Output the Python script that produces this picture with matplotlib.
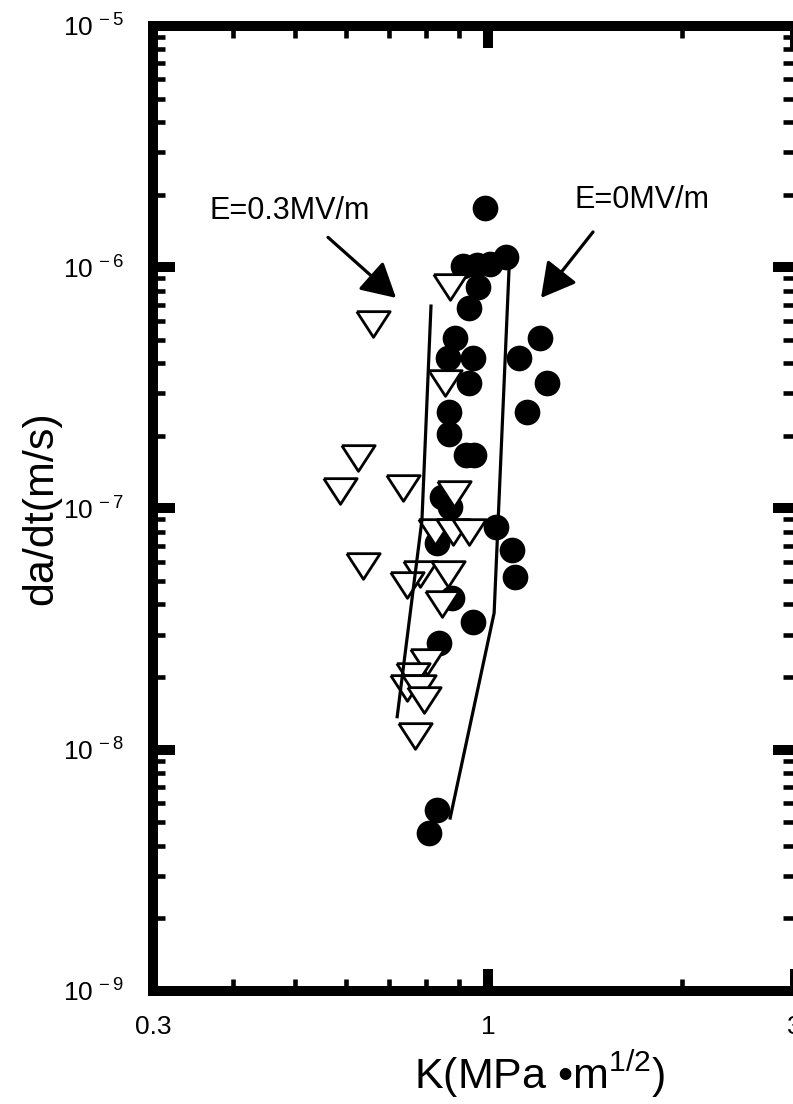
import matplotlib
matplotlib.use('Agg')
import matplotlib.pyplot as plt
from matplotlib import font_manager
from matplotlib.ticker import FixedLocator, FixedFormatter, NullFormatter

names = {f.name for f in font_manager.fontManager.ttflist}
FONT = 'Liberation Sans Narrow' if 'Liberation Sans Narrow' in names else 'Liberation Sans'
plt.rcParams['font.family'] = [FONT, 'DejaVu Sans']
plt.rcParams['mathtext.fontset'] = 'custom'
plt.rcParams['mathtext.rm'] = FONT
plt.rcParams['mathtext.it'] = FONT
plt.rcParams['mathtext.bf'] = FONT

# E = 0 MV/m (filled circles)
k_e0 = [0.988, 0.913, 0.960, 1.006, 1.065, 0.964, 0.933, 0.887, 0.865, 0.946,
        1.204, 1.117, 1.234, 0.933, 1.149, 0.869, 0.869, 0.923, 0.950, 0.847,
        0.872, 1.028, 1.088, 1.100, 0.832, 0.878, 0.946, 0.838, 0.832, 0.808]
v_e0 = [1.76e-6, 1.01e-6, 1.02e-6, 1.03e-6, 1.10e-6, 8.28e-7, 6.77e-7, 5.09e-7, 4.21e-7, 4.21e-7,
        5.09e-7, 4.21e-7, 3.31e-7, 3.31e-7, 2.51e-7, 2.51e-7, 2.04e-7, 1.67e-7, 1.67e-7, 1.12e-7,
        1.01e-7, 8.38e-8, 6.73e-8, 5.20e-8, 7.19e-8, 4.26e-8, 3.39e-8, 2.77e-8, 5.62e-9, 4.52e-9]

# E = 0.3 MV/m (open triangles)
k_e03 = [0.661, 0.626, 0.587, 0.736, 0.872, 0.856, 0.884, 0.826, 0.881, 0.933,
         0.638, 0.783, 0.865, 0.747, 0.847, 0.803, 0.763, 0.747, 0.780, 0.794, 0.769]
v_e03 = [5.82e-7, 1.62e-7, 1.18e-7, 1.22e-7, 8.28e-7, 3.31e-7, 1.15e-7, 8.0e-8, 8.0e-8, 8.0e-8,
         5.78e-8, 5.35e-8, 5.35e-8, 4.82e-8, 4.02e-8, 2.31e-8, 2.02e-8, 1.80e-8, 1.80e-8, 1.61e-8, 1.14e-8]

# trend lines
line_e03_k = [0.721, 0.788, 0.814]
line_e03_v = [1.37e-8, 8.95e-8, 6.90e-7]
line_e0_k = [0.872, 1.021, 1.077]
line_e0_v = [5.21e-9, 3.69e-8, 9.75e-7]

x_major = [0.3, 1, 3]
x_major_labels = ['0.3', '1', '3']
x_minor = [0.4, 0.5, 0.6, 0.7, 0.8, 0.9, 2]
y_exps = [-9, -8, -7, -6, -5]
y_minor = [m * 10.0 ** e for e in y_exps[:-1] for m in range(2, 10)]

fig = plt.figure(figsize=(7.93, 11.04), dpi=100)
ax = fig.add_axes([0.1927, 0.1024, 0.8092, 0.8741])
ax.set_xscale('log')
ax.set_yscale('log')
ax.set_xlim(0.3, 3)
ax.set_ylim(1e-9, 1e-5)

ax.plot(k_e0, v_e0, linestyle='none', marker='o', ms=18.5, mfc='k', mec='k', mew=0, zorder=3)
tri = [(-1, 0.77), (1, 0.77), (0, -0.77), (-1, 0.77)]
ax.plot(k_e03, v_e03, linestyle='none', marker=tri, ms=24, mfc='white', mec='k', mew=2.0, zorder=4)
ax.plot(line_e03_k, line_e03_v, color='k', lw=2.3, zorder=5)
ax.plot(line_e0_k, line_e0_v, color='k', lw=2.3, zorder=5)

arrow = dict(arrowstyle='-|>,head_length=1.05,head_width=0.58', lw=2.3, color='k',
             mutation_scale=20, shrinkA=0, shrinkB=0)
ax.annotate('', xy=(0.718, 7.46e-7), xytext=(0.5625, 1.33e-6), arrowprops=arrow)
ax.annotate('', xy=(1.208, 7.46e-7), xytext=(1.456, 1.40e-6), arrowprops=arrow)
ax.text(0.491, 1.71e-6, 'E=0.3MV/m', ha='center', va='center', fontsize=22)
ax.text(1.737, 1.90e-6, 'E=0MV/m', ha='center', va='center', fontsize=22)

ax.xaxis.set_major_locator(FixedLocator(x_major))
ax.xaxis.set_major_formatter(FixedFormatter(x_major_labels))
ax.xaxis.set_minor_locator(FixedLocator(x_minor))
ax.xaxis.set_minor_formatter(NullFormatter())
ax.yaxis.set_major_locator(FixedLocator([10.0 ** e for e in y_exps]))
ax.yaxis.set_major_formatter(FixedFormatter([r'$10^{\,%d}$' % e for e in y_exps]))
ax.yaxis.set_minor_locator(FixedLocator(y_minor))
ax.yaxis.set_minor_formatter(NullFormatter())

ax.tick_params(which='both', direction='in', top=True, right=True, color='k')
ax.tick_params(which='major', length=16, width=7.2, labelsize=19)
ax.tick_params(which='minor', length=8.6, width=3.3)
ax.tick_params(axis='x', which='major', pad=17)
ax.tick_params(axis='y', which='major', pad=21)
for s in ax.spines.values():
    s.set_linewidth(7.2)

ax.set_xlabel(r'K(MPa •m$^{1/2}$)', fontsize=31)
ax.xaxis.set_label_coords(0.603, -0.06)
ax.set_ylabel('da/dt(m/s)', fontsize=31)
ax.yaxis.set_label_coords(-0.142, 0.50)

fig.savefig('out.png', dpi=100)
